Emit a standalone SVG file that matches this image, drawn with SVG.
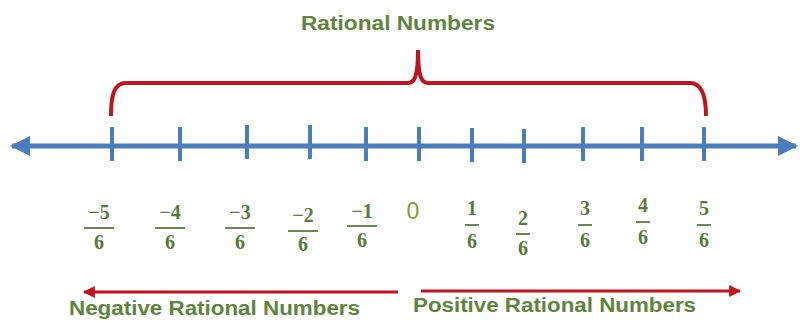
<svg xmlns="http://www.w3.org/2000/svg" width="800" height="321" viewBox="0 0 800 321">
<style>
.lbl{font-family:"Liberation Sans","Open Sans",sans-serif;font-weight:bold;fill:#5f843c}
.fr{font-family:"Liberation Serif","DejaVu Serif",serif;font-weight:bold;font-size:20px;fill:#5a7a3a;text-anchor:middle}
.bar{stroke:#5a7a3a;stroke-width:1.8}
.tick{stroke:#4a7dbd;stroke-width:4}
.axis{stroke:#4a7dbd;stroke-width:5}
.red{stroke:#c0141c;fill:none}
</style>
<defs>
<marker id="ba" viewBox="0 0 10 10" refX="9" refY="5" markerWidth="4" markerHeight="4" orient="auto-start-reverse" markerUnits="strokeWidth"><path d="M0,0L10,5L0,10z" fill="#4a7dbd"/></marker>
<marker id="ra" viewBox="0 0 10 10" refX="9" refY="5" markerWidth="4" markerHeight="4" orient="auto-start-reverse" markerUnits="strokeWidth"><path d="M0,0L10,5L0,10z" fill="#c0141c"/></marker>
</defs>
<g id="title"><text class="lbl" x="301" y="30" font-size="21" textLength="194" lengthAdjust="spacingAndGlyphs">Rational Numbers</text></g>
<g id="connectors">
<line class="axis" x1="12" y1="146" x2="796" y2="146" marker-start="url(#ba)" marker-end="url(#ba)"/>
<path class="red" stroke-width="4" d="M111,116 C111,95 114,83 126,83 L408,83 C414,83 418,78 418,50 C418,78 422,83 428,83 L690,83 C701,83 706,95 706,116"/>
<line class="red" stroke-width="3" x1="84" y1="292" x2="398" y2="292" marker-start="url(#ra)"/>
<line class="red" stroke-width="3" x1="421" y1="291" x2="740" y2="291" marker-end="url(#ra)"/>
</g>
<g id="ticks">
<line class="tick" x1="112" y1="127" x2="112" y2="161"/>
<line class="tick" x1="180" y1="127" x2="180" y2="161"/>
<line class="tick" x1="247" y1="125" x2="247" y2="159"/>
<line class="tick" x1="310" y1="125" x2="310" y2="159"/>
<line class="tick" x1="366" y1="127" x2="366" y2="161"/>
<line class="tick" x1="419" y1="127" x2="419" y2="161"/>
<line class="tick" x1="472" y1="128" x2="472" y2="162"/>
<line class="tick" x1="524" y1="129" x2="524" y2="163"/>
<line class="tick" x1="583" y1="127" x2="583" y2="161"/>
<line class="tick" x1="642" y1="127" x2="642" y2="161"/>
<line class="tick" x1="704" y1="127" x2="704" y2="161"/>
</g>
<g id="n-5"><text class="fr" x="99" y="219">−5</text><line class="bar" x1="84" y1="228" x2="114" y2="228"/><text class="fr" x="99" y="249">6</text></g>
<g id="n-4"><text class="fr" x="170" y="219">−4</text><line class="bar" x1="155" y1="228" x2="185" y2="228"/><text class="fr" x="170" y="249">6</text></g>
<g id="n-3"><text class="fr" x="240" y="219">−3</text><line class="bar" x1="225" y1="228" x2="255" y2="228"/><text class="fr" x="240" y="249">6</text></g>
<g id="n-2"><text class="fr" x="303" y="222">−2</text><line class="bar" x1="288" y1="231" x2="318" y2="231"/><text class="fr" x="303" y="251">6</text></g>
<g id="n-1"><text class="fr" x="362" y="218">−1</text><line class="bar" x1="347" y1="226" x2="377" y2="226"/><text class="fr" x="362" y="247">6</text></g>
<g id="n0"><text x="413" y="219" font-family="'Liberation Sans',sans-serif" font-size="23" fill="#8a9a3a" text-anchor="middle">0</text></g>
<g id="p1"><text class="fr" x="472" y="215">1</text><line class="bar" x1="465" y1="225" x2="479" y2="225"/><text class="fr" x="472" y="248">6</text></g>
<g id="p2"><text class="fr" x="523" y="225">2</text><line class="bar" x1="516" y1="234" x2="530" y2="234"/><text class="fr" x="523" y="255">6</text></g>
<g id="p3"><text class="fr" x="585" y="215">3</text><line class="bar" x1="578" y1="225" x2="592" y2="225"/><text class="fr" x="585" y="247">6</text></g>
<g id="p4"><text class="fr" x="643" y="212">4</text><line class="bar" x1="636" y1="222" x2="650" y2="222"/><text class="fr" x="643" y="244">6</text></g>
<g id="p5"><text class="fr" x="704" y="215">5</text><line class="bar" x1="697" y1="225" x2="711" y2="225"/><text class="fr" x="704" y="247">6</text></g>
<g id="neg"><text class="lbl" x="69" y="315" font-size="20" textLength="291" lengthAdjust="spacingAndGlyphs">Negative Rational Numbers</text></g>
<g id="pos"><text class="lbl" x="413" y="312" font-size="20" textLength="283" lengthAdjust="spacingAndGlyphs">Positive Rational Numbers</text></g>
</svg>
